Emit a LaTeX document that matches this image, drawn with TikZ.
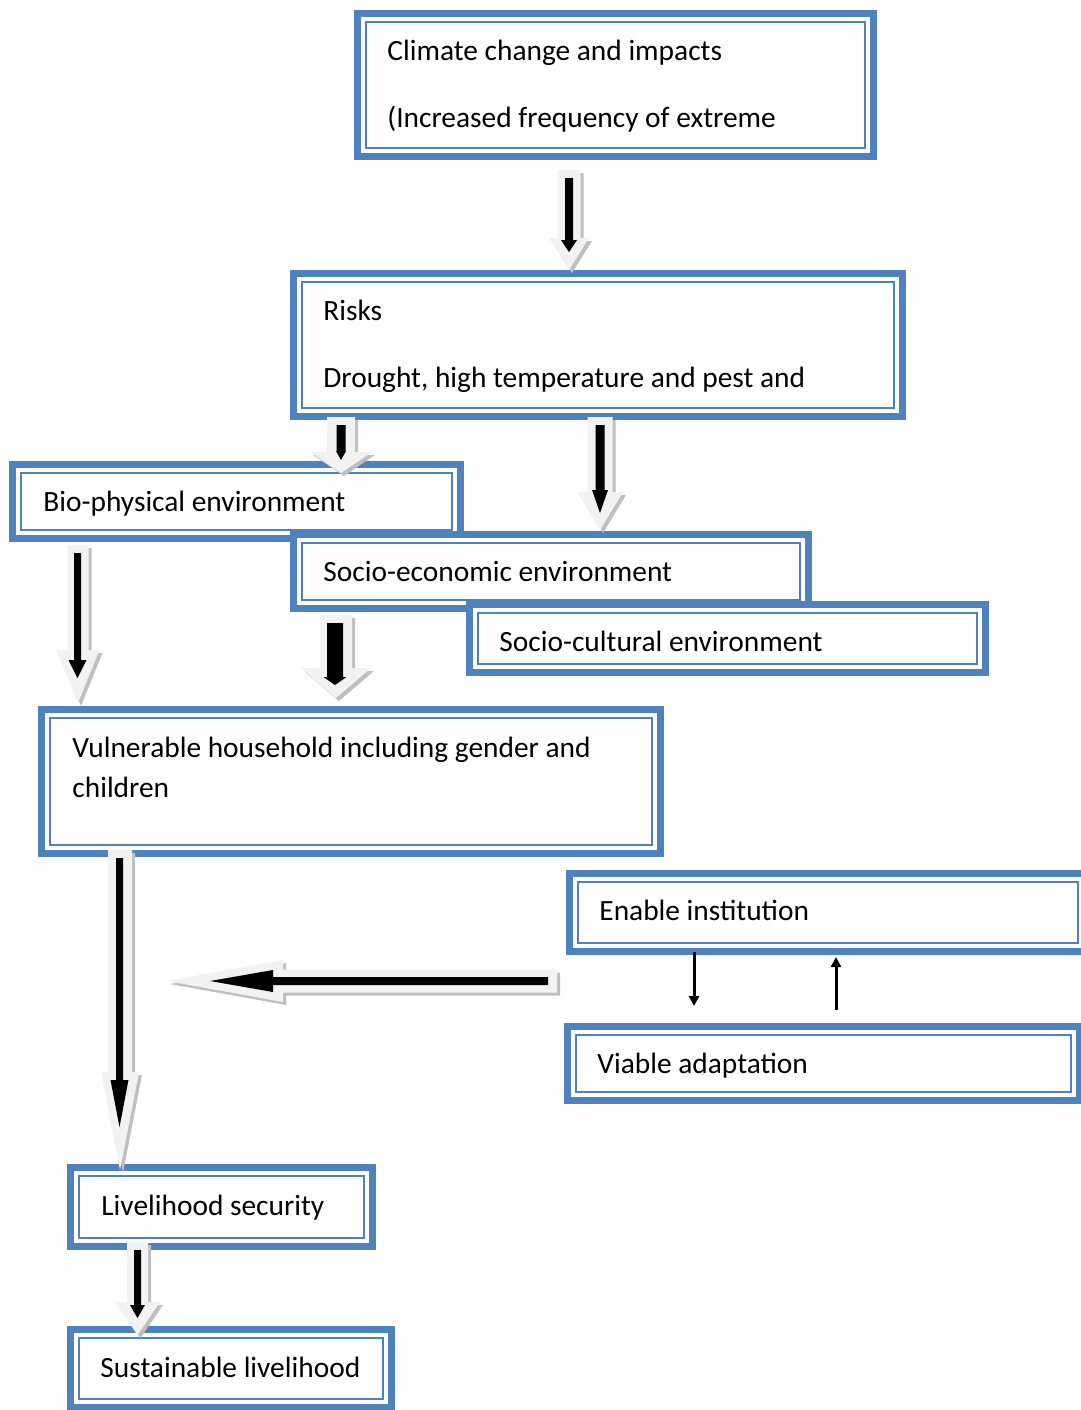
\documentclass[tikz,border=0pt]{standalone}
\usepackage{fontspec}
\setmainfont{Carlito}
\usetikzlibrary{arrows.meta}
\definecolor{boxblue}{HTML}{4F81BD}
\definecolor{arrlight}{HTML}{F2F2F2}
\definecolor{arrshadow}{HTML}{BFBFBF}
\tikzset{
  lbl/.style={font=\fontsize{14.7}{17}\selectfont, inner sep=0pt, anchor=base west},
  thinarr/.style={line width=1.5pt, -{Triangle[length=5pt,width=5pt]}},
}
% double box: name, x1, y1, x2, y2 (outer edges, in px)
\newcommand{\dbox}[5]{%
  \fill[white] (#2,#3) rectangle (#4,#5);
  \draw[boxblue, line width=3.5pt] (#2+3.5,#3+3.5) rectangle (#4-3.5,#5-3.5);
  \draw[boxblue, line width=1.25pt] (#2+12,#3+12) rectangle (#4-12,#5-12);
  \coordinate (#1) at ({(#2+#4)/2},{(#3+#5)/2});
}
% block arrow pointing down: cx, top, shaft half width, head y, head half width, tip y
\newcommand{\blockdown}[6]{%
  \fill[arrshadow, shift={(3,3)}] (#1-#3,#2) -- (#1+#3,#2) -- (#1+#3,#4) -- (#1+#5,#4) -- (#1,#6) -- (#1-#5,#4) -- (#1-#3,#4) -- cycle;
  \fill[arrlight] (#1-#3,#2) -- (#1+#3,#2) -- (#1+#3,#4) -- (#1+#5,#4) -- (#1,#6) -- (#1-#5,#4) -- (#1-#3,#4) -- cycle;
}
\newcommand{\innerdown}[6]{%
  \fill[black] (#1-#3,#2) -- (#1+#3,#2) -- (#1+#3,#4) -- (#1+#5,#4) -- (#1,#6) -- (#1-#5,#4) -- (#1-#3,#4) -- cycle;
}
\begin{document}
\begin{tikzpicture}[x=0.5pt, y=-0.5pt]
\useasboundingbox (0,0) rectangle (1081,1410);
\clip (0,0) rectangle (1081,1410);

% boxes
\dbox{climate}{354}{10}{877}{160}
\node[lbl] (tclimate1) at (387,60) {Climate change and impacts};
\node[lbl] (tclimate2) at (387,127) {(Increased frequency of extreme};

\dbox{risks}{290}{270}{906}{420}
\node[lbl] (trisks1) at (323,320) {Risks};
\node[lbl] (trisks2) at (323,387) {Drought, high temperature and pest and};

\dbox{bio}{9}{461}{464}{542}
\node[lbl] (tbio) at (43,511) {Bio-physical environment};

\dbox{socioeco}{290}{531}{812}{612}
\node[lbl] (tsocioeco) at (323,581) {Socio-economic environment};

\dbox{sociocult}{466}{601}{989}{676}
\node[lbl] (tsociocult) at (499,651) {Socio-cultural environment};

\dbox{vulnerable}{38}{706}{664}{857}
\node[lbl] (tvul1) at (72,757) {Vulnerable household including gender and};
\node[lbl] (tvul2) at (72,797) {children};

\dbox{enable}{566}{870}{1090}{955}
\node[lbl] (tenable) at (599,920) {Enable institution};

\dbox{viable}{564}{1023}{1083}{1104}
\node[lbl] (tviable) at (597,1073) {Viable adaptation};

\dbox{livelihood}{67}{1164}{376}{1250}
\node[lbl] (tlive) at (101,1215) {Livelihood security};

\dbox{sustain}{67}{1326}{395}{1411}
\node[lbl] (tsustain) at (100,1377) {Sustainable livelihood};

% block arrows
\blockdown{569}{170}{11.5}{238}{20}{270}
\innerdown{569}{178}{4}{240}{8}{252}

\blockdown{341}{417}{14}{452}{31}{473}
\innerdown{341}{425}{4.5}{451}{5}{460}

\blockdown{600}{417}{12.5}{492}{23}{530}
\innerdown{600}{425}{4.5}{490}{8}{513}

\blockdown{78}{545}{10.5}{650}{21.5}{703}
\innerdown{77.5}{553}{3.5}{660}{9}{678}

\blockdown{336}{615}{16}{668}{35}{698}
\innerdown{335}{623}{8}{677}{11.5}{685}

\blockdown{120}{850}{12}{1072}{19}{1170}
\innerdown{119.5}{858}{3.5}{1080}{9}{1127}

\blockdown{137.5}{1242}{10.5}{1302}{22.5}{1335}
\innerdown{137.5}{1250}{3.5}{1305}{7.5}{1318}

% horizontal block arrow
\fill[arrshadow, shift={(3,3)}] (557,969.5) -- (557,992.5) -- (283,992.5) -- (283,1002) -- (167,981) -- (283,960) -- (283,969.5) -- cycle;
\fill[arrlight] (557,969.5) -- (557,992.5) -- (283,992.5) -- (283,1002) -- (167,981) -- (283,960) -- (283,969.5) -- cycle;
\fill[black] (548,977) -- (548,985) -- (273,985) -- (273,992) -- (210,981) -- (273,970) -- (273,977) -- cycle;

% thin arrows between Enable institution and Viable adaptation
\coordinate (dn1) at (694,952);
\coordinate (dn2) at (694,1006);
\coordinate (up1) at (836,1010);
\coordinate (up2) at (836,957);
\draw[thinarr] (dn1) -- (dn2);
\draw[thinarr] (up1) -- (up2);
\end{tikzpicture}
\end{document}
